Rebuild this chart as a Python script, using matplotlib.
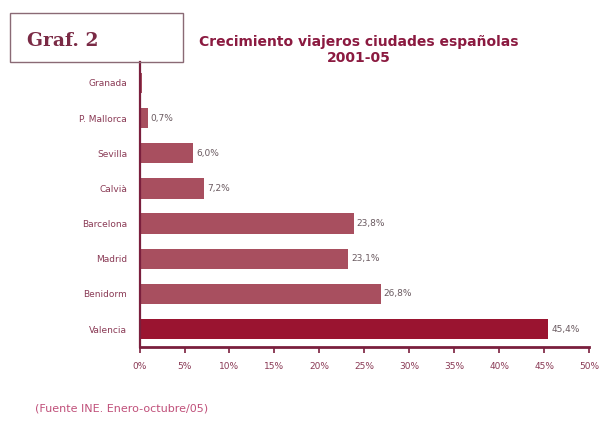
import matplotlib
matplotlib.use("Agg")
import matplotlib.pyplot as plt
from matplotlib.patches import Rectangle

cities = ["Granada", "P. Mallorca", "Sevilla", "Calvià", "Barcelona", "Madrid", "Benidorm", "Valencia"]
growth = [0.3, 0.9, 6.0, 7.2, 23.8, 23.2, 26.8, 45.4]
value_labels = ["", "0,7%", "6,0%", "7,2%", "23,8%", "23,1%", "26,8%", "45,4%"]
bar_colors = ["#a84f5f"] * 7 + ["#9a1430"]
xticks = [0, 5, 10, 15, 20, 25, 30, 35, 40, 45, 50]
xtick_labels = [f"{t}%" for t in xticks]

fig = plt.figure(figsize=(6.04, 4.23), dpi=100)
ax = fig.add_axes([0.231, 0.1797, 0.7447, 0.6733])

n = len(cities)
ypos = [n - 1 - i for i in range(n)]
ax.barh(ypos, growth, height=0.58, color=bar_colors, edgecolor="none", zorder=2)
for y, v, lab in zip(ypos, growth, value_labels):
    if lab:
        ax.text(v + 0.35, y, lab, va="center", ha="left", fontsize=6.5, color="#6a5a60")

ax.set_xlim(0, 50)
ax.set_ylim(-0.51, n - 1 + 0.59)
ax.set_yticks(ypos)
ax.set_yticklabels(cities, fontsize=6.5, color="#8a3a55")
ax.set_xticks(xticks)
ax.set_xticklabels(xtick_labels, fontsize=6.5, color="#8a3a55")
for s in ["top", "right"]:
    ax.spines[s].set_visible(False)
ax.spines["left"].set_color("#7a1f3d")
ax.spines["left"].set_linewidth(1.6)
ax.spines["bottom"].set_color("#7a1f3d")
ax.spines["bottom"].set_linewidth(2.0)
ax.tick_params(axis="y", length=0, pad=9)
ax.tick_params(axis="x", length=4, width=1.2, color="#7a1f3d", direction="out", pad=7)

# title box
fig.patches.append(Rectangle((10 / 604, 1 - 62 / 423), 173 / 604, 49 / 423,
                             transform=fig.transFigure, fill=False,
                             edgecolor="#8a6a75", linewidth=1.0))
fig.text(27 / 604, 1 - 41 / 423, "Graf. 2", fontsize=13.5, fontweight="bold",
         family="DejaVu Serif", color="#7a2a45", va="center", ha="left")
fig.text(359 / 604, 1 - 50 / 423, "Crecimiento viajeros ciudades españolas\n2001-05",
         fontsize=10, fontweight="bold", color="#8b1a40", ha="center", va="center",
         linespacing=1.15)
fig.text(35 / 604, 1 - 408 / 423, "(Fuente INE. Enero-octubre/05)", fontsize=8,
         color="#c0507a", ha="left", va="center")

fig.savefig("out.png", dpi=100, facecolor="white")
